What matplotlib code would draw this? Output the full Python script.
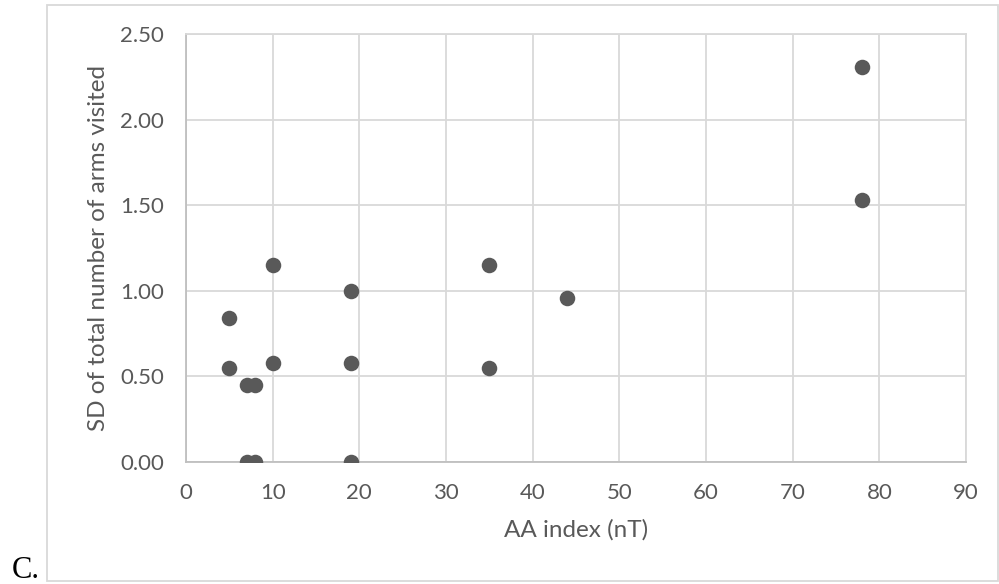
import matplotlib
matplotlib.use("Agg")
import matplotlib.pyplot as plt
from matplotlib.patches import Rectangle

# AA index (nT) and SD of total number of arms visited
aa_index = [5, 5, 7, 8, 7, 8, 10, 10, 19, 19, 19, 35, 35, 44, 78, 78]
sd_arms = [0.84, 0.55, 0.45, 0.45, 0.00, 0.00, 1.15, 0.58, 1.00, 0.58, 0.00,
           1.15, 0.55, 0.96, 2.31, 1.53]

x_ticks = [0, 10, 20, 30, 40, 50, 60, 70, 80, 90]
y_ticks = [0.0, 0.5, 1.0, 1.5, 2.0, 2.5]

text_color = "#595959"
grid_color = "#d9d9d9"
font = ["Lato", "DejaVu Sans"]
fs = 16
title_fs = 17.5

fig = plt.figure(figsize=(9.99, 5.84), dpi=100)
ax = fig.add_axes([186 / 999, 1 - 462 / 584, (966 - 186) / 999, (462 - 34) / 584])

ax.scatter(aa_index, sd_arms, s=125, color="#595959", zorder=3, linewidths=0)

ax.set_xlim(0, 90)
ax.set_ylim(0, 2.5)
ax.set_xticks(x_ticks)
ax.set_yticks(y_ticks)
ax.set_xticklabels([str(t) for t in x_ticks], family=font, fontsize=fs, color=text_color)
ax.set_yticklabels([f"{t:.2f}" for t in y_ticks], family=font, fontsize=fs, color=text_color)
ax.tick_params(axis="x", length=0, pad=15)
ax.tick_params(axis="y", length=0, pad=16)

ax.grid(True, color=grid_color, linewidth=1.3, zorder=0)
ax.set_axisbelow(True)
for side in ["top", "right"]:
    ax.spines[side].set_color(grid_color)
    ax.spines[side].set_linewidth(1.3)
for side in ["bottom", "left"]:
    ax.spines[side].set_color("#bfbfbf")
    ax.spines[side].set_linewidth(1.3)

ax.set_xlabel("AA index (nT)", family=font, fontsize=title_fs, color=text_color, labelpad=12)
ax.set_ylabel("SD of total number of arms visited", family=font, fontsize=title_fs,
              color=text_color, labelpad=8)

# Chart-area frame
fig.patches.append(Rectangle((47 / 999, 1 - 581 / 584), (998 - 47) / 999, (581 - 5) / 584,
                             transform=fig.transFigure, fill=False,
                             edgecolor=grid_color, linewidth=1.3))

fig.text(12 / 999, 1 - 578 / 584, "C.", family=["Liberation Serif", "DejaVu Serif"],
         fontsize=22, color="black", ha="left", va="baseline")

fig.savefig("out.png", dpi=100)
